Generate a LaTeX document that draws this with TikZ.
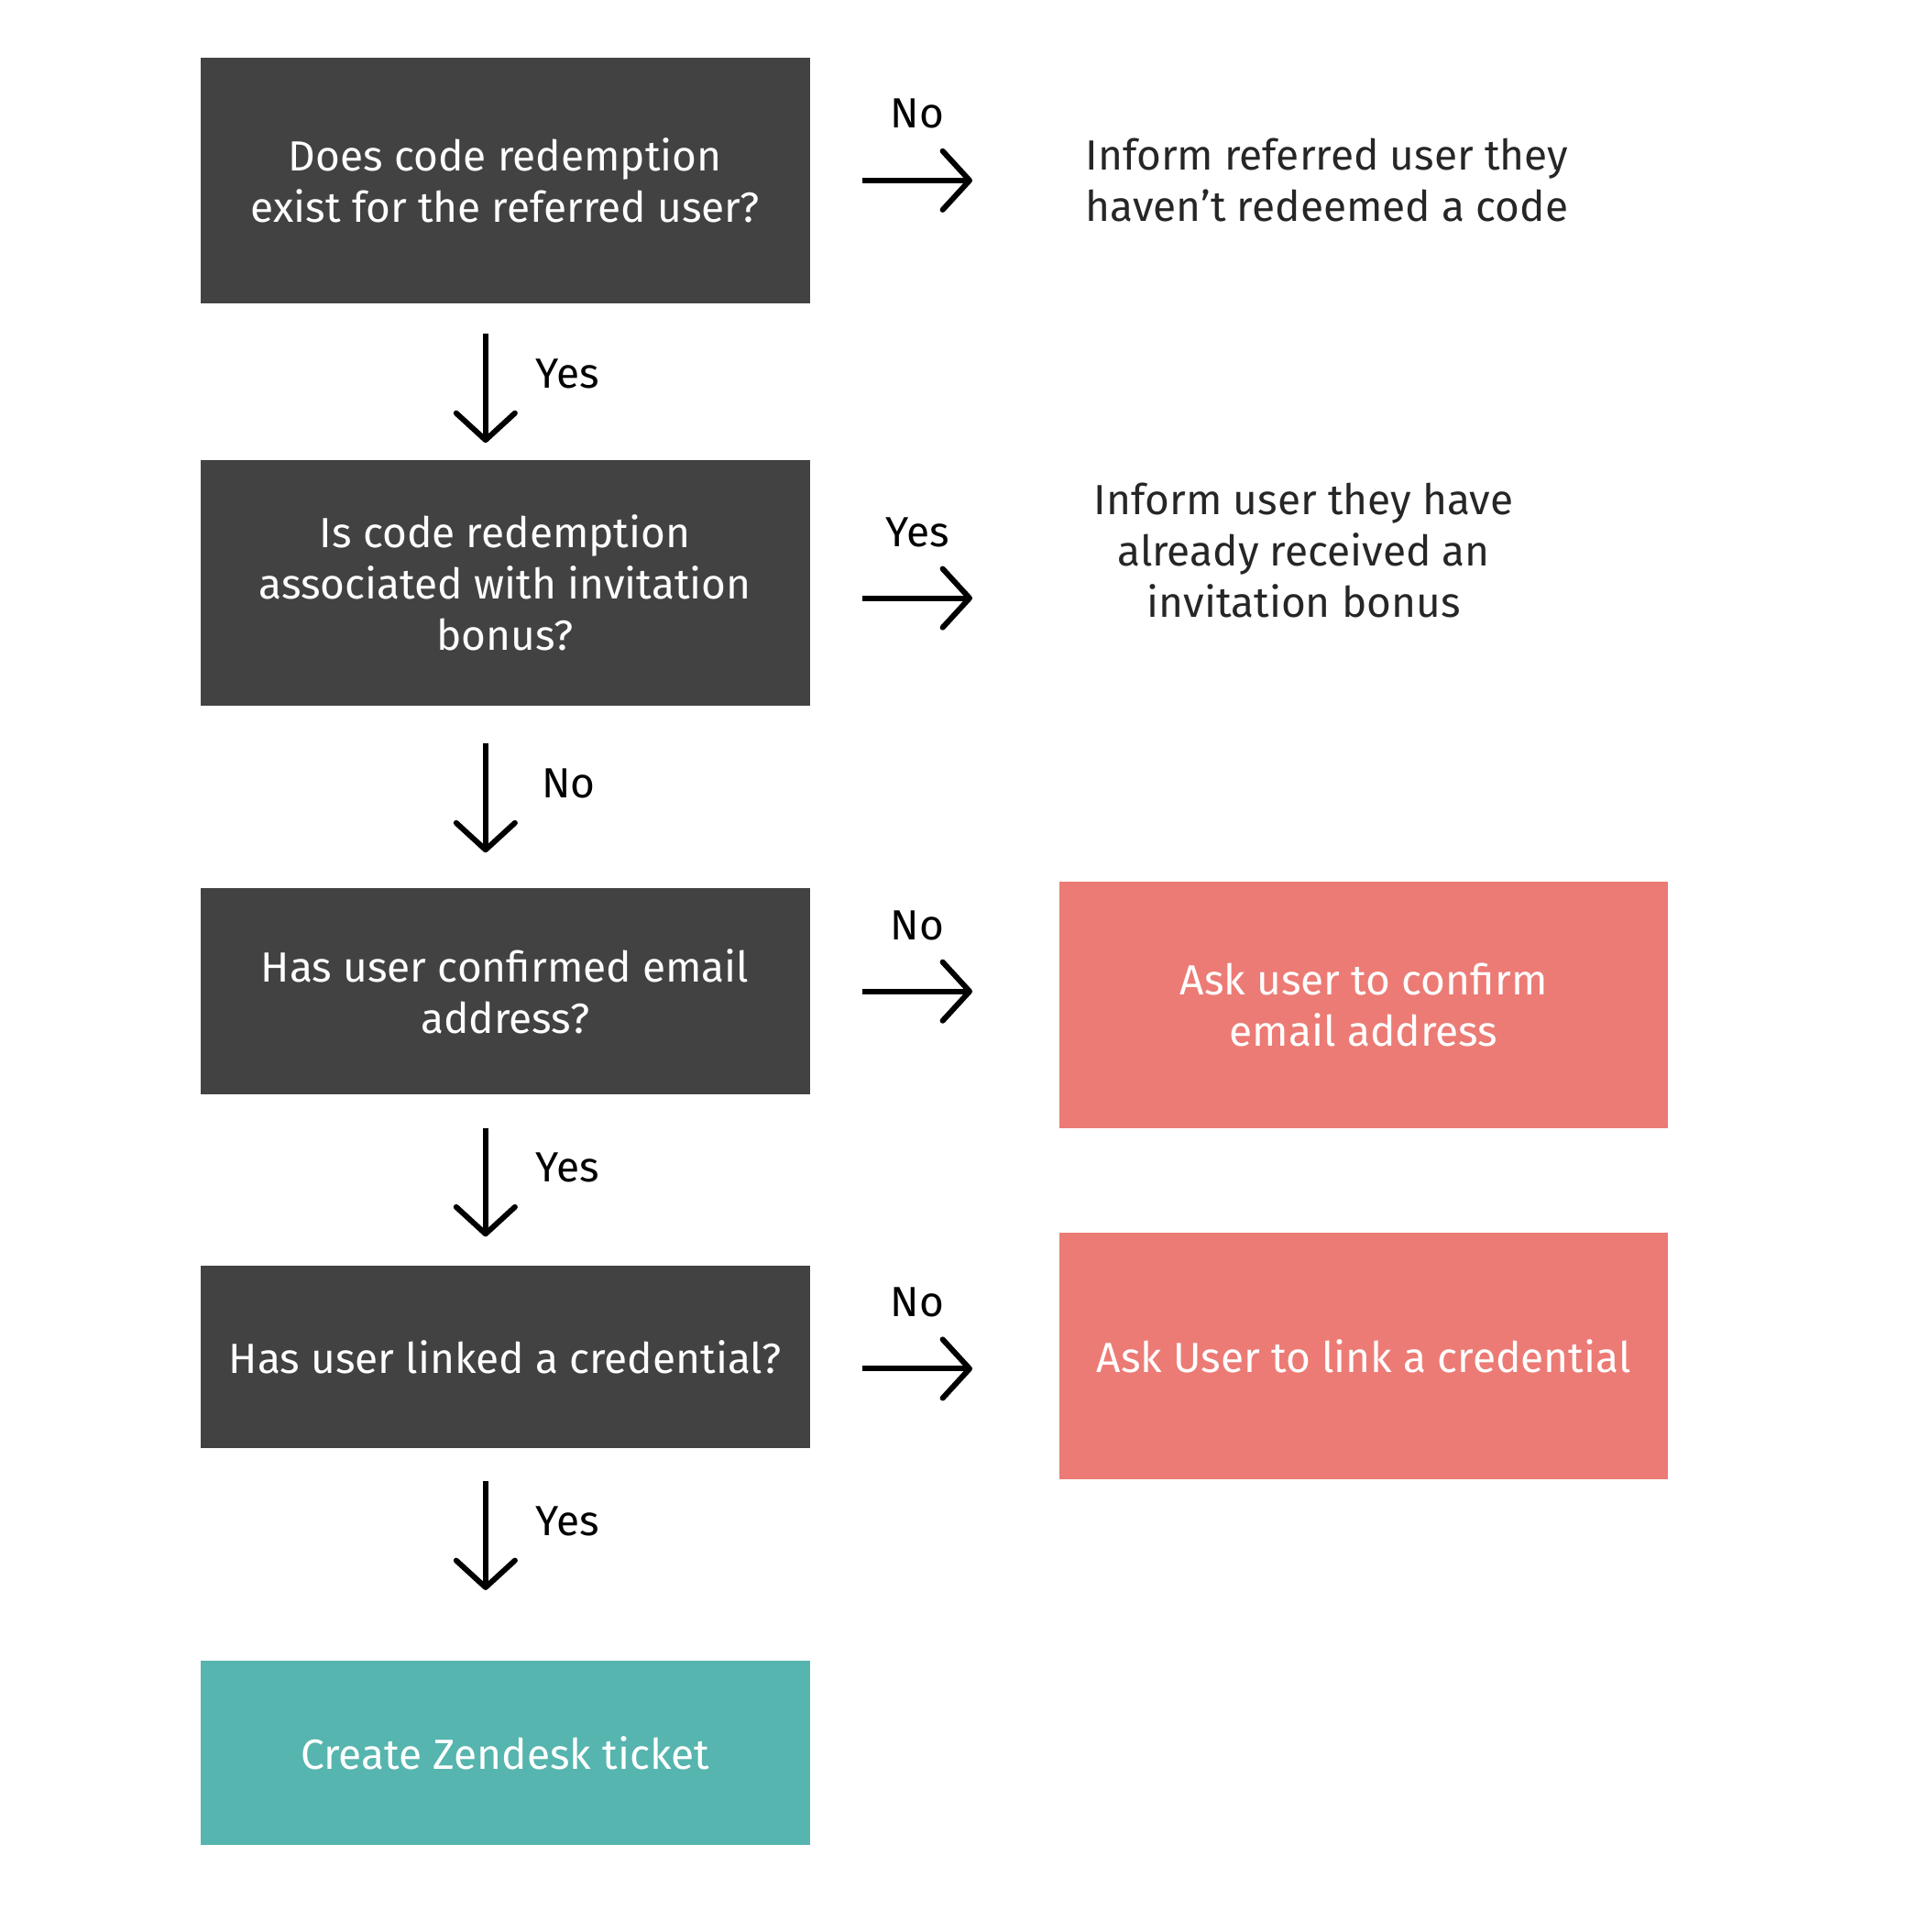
\documentclass[tikz,border=0pt]{standalone}
\usepackage{fontspec}
\setmainfont{Fira Sans}
\usetikzlibrary{arrows.meta,positioning}

\definecolor{boxgrey}{HTML}{424242}
\definecolor{boxred}{HTML}{EC7B75}
\definecolor{boxteal}{HTML}{56B5AE}
\definecolor{textgrey}{HTML}{262626}

\begin{document}
\begin{tikzpicture}[x=1pt, y=-1pt, >={Straight Barb[length=22pt,width=48pt,round]},
    every node/.style={font=\fontsize{34.5}{42}\selectfont, outer sep=0pt},
    question/.style={fill=boxgrey, text=white, minimum width=498pt, align=center},
    answer/.style={fill=boxred, text=white, minimum width=498pt, minimum height=201pt, align=center},
    ticket/.style={fill=boxteal, text=white, minimum width=498pt, minimum height=150pt},
    info/.style={text=textgrey, align=center},
    choice/.style={text=black, text height=24pt, text depth=0pt},
    arrow/.style={->, line width=4.5pt}]
    \useasboundingbox (0,0) rectangle (1560,1579.5);
    % left column: the questions
    \node[question, minimum height=201pt] (q1) at (413,147.5) {Does code redemption\\exist for the referred user?};
    \node[question, minimum height=201pt] (q2) [below=128pt of q1] {Is code redemption\\associated with invitation\\bonus?};
    \node[question, minimum height=169pt] (q3) [below=149pt of q2] {Has user confirmed email\\address?};
    \node[question, minimum height=149pt] (q4) [below=140pt of q3] {Has user linked a credential?};
    \node[ticket] (zd) [below=174pt of q4] {Create Zendesk ticket};
    % right column: the answers
    \node[info] (t1) at (1085,147) {Inform referred user they\\haven’t redeemed a code};
    \node[info] (t2) at (1066,450) {Inform user they have\\already received an\\invitation bonus};
    \node[answer] (r1) [right=204pt of q3, yshift=-11pt] {Ask user to confirm\\email address};
    \node[answer] (r2) [right=204pt of q4, yshift=1pt] {Ask User to link a credential};
    % arrows down
    \draw[arrow] ([xshift=-16pt, yshift=-25pt]q1.south) -- ([xshift=-16pt, yshift=14pt]q2.north)
        node[choice, midway, xshift=67pt, yshift=12pt] {Yes};
    \draw[arrow] ([xshift=-16pt, yshift=-31pt]q2.south) -- ([xshift=-16pt, yshift=29pt]q3.north)
        node[choice, midway, xshift=68pt, yshift=12pt] {No};
    \draw[arrow] ([xshift=-16pt, yshift=-27pt]q3.south) -- ([xshift=-16pt, yshift=24pt]q4.north)
        node[choice, midway, xshift=67pt, yshift=12pt] {Yes};
    \draw[arrow] ([xshift=-16pt, yshift=-27pt]q4.south) -- ([xshift=-16pt, yshift=58pt]zd.north)
        node[choice, midway, xshift=67pt, yshift=12pt] {Yes};
    % arrows across
    \draw[arrow] ([xshift=43pt]q1.east) -- ([xshift=133pt]q1.east)
        node[choice, midway, yshift=55pt] {No};
    \draw[arrow] ([xshift=43pt, yshift=-12.5pt]q2.east) -- ([xshift=133pt, yshift=-12.5pt]q2.east)
        node[choice, midway, yshift=54pt] {Yes};
    \draw[arrow] ([xshift=43pt]q3.east) -- ([xshift=133pt]q3.east)
        node[choice, midway, yshift=54pt] {No};
    \draw[arrow] ([xshift=43pt, yshift=-9.5pt]q4.east) -- ([xshift=133pt, yshift=-9.5pt]q4.east)
        node[choice, midway, yshift=55pt] {No};
\end{tikzpicture}
\end{document}
